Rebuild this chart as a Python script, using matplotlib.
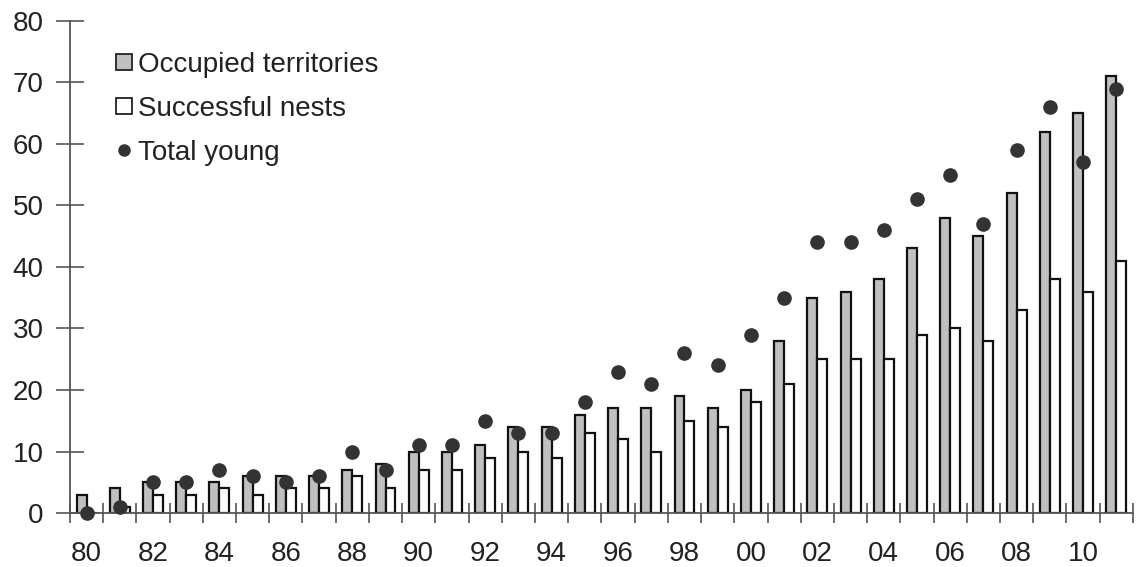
import matplotlib
matplotlib.use("Agg")
import matplotlib.pyplot as plt
from matplotlib.lines import Line2D
import numpy as np

years = list(range(1980, 2012))
occupied = [3, 4, 5, 5, 5, 6, 6, 6, 7, 8, 10, 10, 11, 14, 14, 16, 17, 17, 19, 17,
            20, 28, 35, 36, 38, 43, 48, 45, 52, 62, 65, 71]
successful = [0, 1, 3, 3, 4, 3, 4, 4, 6, 4, 7, 7, 9, 10, 9, 13, 12, 10, 15, 14,
              18, 21, 25, 25, 25, 29, 30, 28, 33, 38, 36, 41]
young = [0, 1, 5, 5, 7, 6, 5, 6, 10, 7, 11, 11, 15, 13, 13, 18, 23, 21, 26, 24,
         29, 35, 44, 44, 46, 51, 55, 47, 59, 66, 57, 69]
tick_labels = [f"{y % 100:02d}" for y in years[::2]]

plt.rcParams['font.family'] = ['Liberation Sans', 'DejaVu Sans']

fig = plt.figure(figsize=(11.38, 5.67), dpi=100)
ax = fig.add_axes([0.0615, 0.0952, 0.934, 0.868])

x = np.arange(len(years))
w = 0.3
ax.bar(x - w / 2, occupied, width=w, color='#c0c0c0', edgecolor='#111111', linewidth=1.6, zorder=2)
ax.bar(x + w / 2, successful, width=w, color='white', edgecolor='#111111', linewidth=1.6, zorder=2)
ax.plot(x, young, 'o', color='#333333', markersize=9.5, zorder=3, clip_on=False)

ax.set_xlim(-0.5, len(years) - 0.5)
ax.set_ylim(0, 80)
ax.set_yticks(range(0, 81, 10))
ax.set_xticks(x[::2])
ax.set_xticklabels(tick_labels)
ax.set_xticks(np.arange(-0.5, len(years), 1.0), minor=True)
ax.tick_params(axis='x', which='major', length=0, pad=20, labelsize=20, labelcolor='#222222')
ax.tick_params(axis='x', which='minor', direction='inout', length=14, width=1.2, color='#555555')
ax.tick_params(axis='y', direction='inout', length=20, width=1.2, color='#555555', labelsize=20,
               labelcolor='#222222', pad=9)
for s in ['top', 'right']:
    ax.spines[s].set_visible(False)
for s in ['left', 'bottom']:
    ax.spines[s].set_color('#555555')
    ax.spines[s].set_linewidth(1.3)

handles = [
    Line2D([], [], marker='s', linestyle='none', markersize=11, markerfacecolor='#c0c0c0',
           markeredgecolor='#222222', markeredgewidth=1.3),
    Line2D([], [], marker='s', linestyle='none', markersize=11, markerfacecolor='white',
           markeredgecolor='#222222', markeredgewidth=1.3),
    Line2D([], [], marker='o', linestyle='none', markersize=8, color='#333333'),
]
ax.legend(handles, ['Occupied territories', 'Successful nests', 'Total young'],
          loc='upper left', bbox_to_anchor=(0.102, 0.909), bbox_transform=fig.transFigure,
          frameon=False, fontsize=20, handlelength=0.6, handletextpad=0.2,
          labelspacing=0.65, borderpad=0, borderaxespad=0, labelcolor='#222222')

fig.savefig('out.png', dpi=100)
